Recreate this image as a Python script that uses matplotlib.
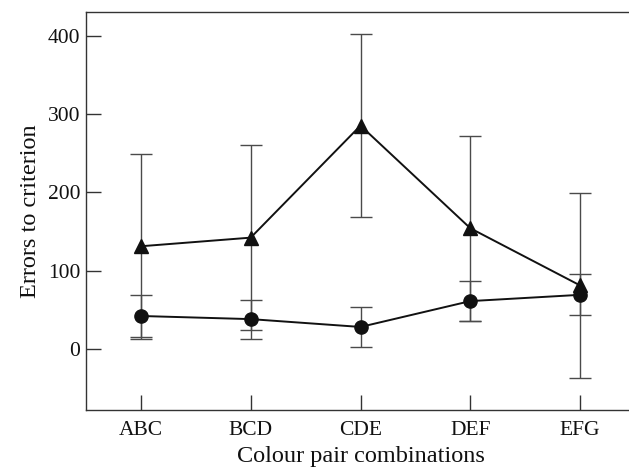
import matplotlib.pyplot as plt
import numpy as np

# Data
combos = ['ABC', 'BCD', 'CDE', 'DEF', 'EFG']
tri_mean = [131, 142, 285, 154, 81]
tri_err = [118, 118, 117, 118, 118]
circ_mean = [42, 38, 28, 61, 69]
circ_err = [27, 25, 26, 26, 26]

plt.rcParams['font.family'] = ['Liberation Serif', 'DejaVu Serif']

fig = plt.figure(figsize=(6.29, 4.71), dpi=100)
ax = fig.add_axes([86 / 629, 61 / 471, 549 / 629, 398 / 471])

x = np.arange(len(combos))

# error bars first (thin grey), then the lines with markers
ax.errorbar(x, tri_mean, yerr=tri_err, fmt='none', ecolor='#4a4a4a',
            elinewidth=1.0, capsize=8, capthick=1.0, zorder=2)
ax.errorbar(x, circ_mean, yerr=circ_err, fmt='none', ecolor='#4a4a4a',
            elinewidth=1.0, capsize=8, capthick=1.0, zorder=2)
ax.plot(x, tri_mean, color='#111111', lw=1.4, marker='^', ms=9.5,
        mfc='#111111', mec='#111111', zorder=3)
ax.plot(x, circ_mean, color='#111111', lw=1.4, marker='o', ms=9.5,
        mfc='#111111', mec='#111111', zorder=3)

ax.set_xlim(-0.5, 4.5)
ax.set_ylim(-78, 430)
ax.set_xticks(x)
ax.set_xticklabels(combos)
ax.set_yticks([0, 100, 200, 300, 400])

ax.tick_params(direction='in', length=11, width=1, colors='#333333',
               labelsize=15.5, labelcolor='#111111')
ax.tick_params(axis='y', pad=4)
ax.tick_params(axis='x', pad=8)
for side in ['left', 'bottom', 'top', 'right']:
    ax.spines[side].set_color('#333333')
    ax.spines[side].set_linewidth(1.0)

ax.set_xlabel('Colour pair combinations', fontsize=17.5, color='#111111', labelpad=4)
ax.set_ylabel('Errors to criterion', fontsize=17.5, color='#111111', labelpad=5)

fig.savefig('out.png', dpi=100)
